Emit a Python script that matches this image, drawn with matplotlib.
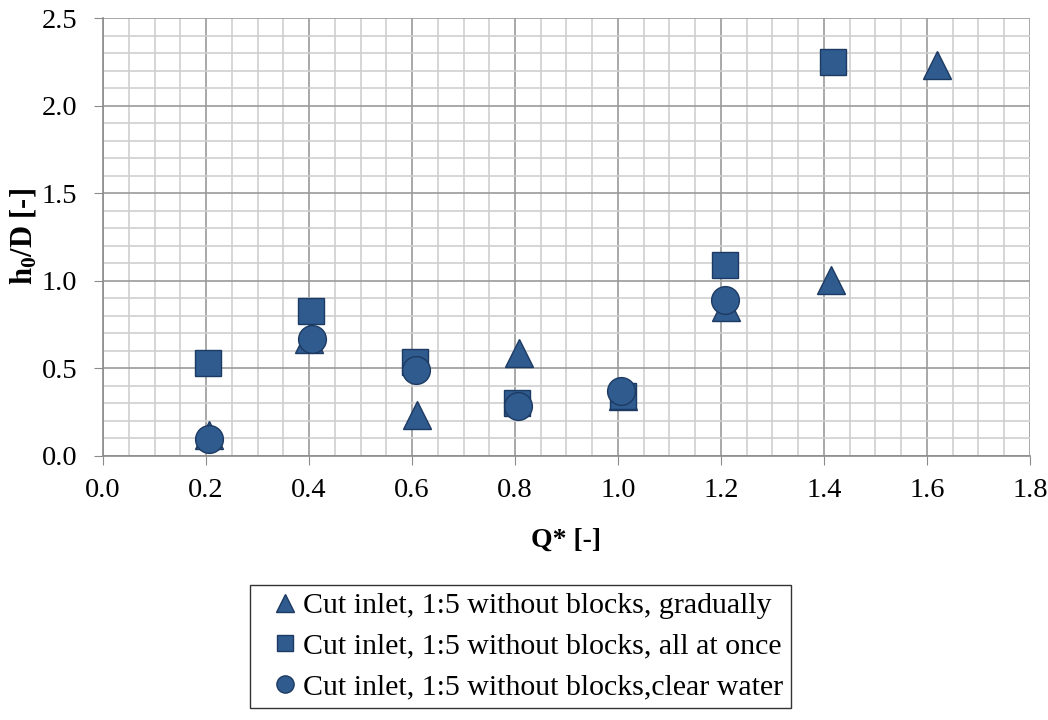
import matplotlib
matplotlib.use('Agg')
import matplotlib.pyplot as plt
from matplotlib.ticker import MultipleLocator

plt.rcParams['font.family'] = ['Liberation Serif', 'DejaVu Serif']
plt.rcParams['mathtext.fontset'] = 'custom'
plt.rcParams['mathtext.rm'] = 'Liberation Serif'
plt.rcParams['mathtext.bf'] = 'Liberation Serif:bold'

# gradually (triangles)
q_grad = [0.205, 0.40, 0.61, 0.807, 1.01, 1.21, 1.413, 1.62]
h_grad = [0.12, 0.67, 0.234, 0.59, 0.34, 0.85, 1.005, 2.23]

# all at once (squares)
q_once = [0.203, 0.403, 0.605, 0.803, 1.01, 1.207, 1.417]
h_once = [0.533, 0.83, 0.538, 0.30, 0.342, 1.09, 2.247]

# clear water (circles)
q_clear = [0.205, 0.405, 0.608, 0.805, 1.005, 1.207]
h_clear = [0.095, 0.668, 0.49, 0.287, 0.371, 0.89]

labels = ['Cut inlet, 1:5 without blocks, gradually',
          'Cut inlet, 1:5 without blocks, all at once',
          'Cut inlet, 1:5 without blocks,clear water']

face = '#2f5b8f'
edge = '#1d3a62'

fig = plt.figure(figsize=(10.48, 7.2), dpi=100)
ax = fig.add_axes([0.0983, 0.3667, 0.8845, 0.6083])

ax.plot(q_grad, h_grad, '^', ms=20, mfc=face, mec=edge, mew=1.0, label=labels[0], zorder=3)
ax.plot(q_once, h_once, 's', ms=19, mfc=face, mec=edge, mew=1.0, label=labels[1], zorder=4)
ax.plot(q_clear, h_clear, 'o', ms=20, mfc=face, mec=edge, mew=1.0, label=labels[2], zorder=5)

ax.set_xlim(0, 1.8)
ax.set_ylim(0, 2.5)
ax.xaxis.set_major_locator(MultipleLocator(0.2))
ax.xaxis.set_minor_locator(MultipleLocator(0.05))
ax.yaxis.set_major_locator(MultipleLocator(0.5))
ax.yaxis.set_minor_locator(MultipleLocator(0.1))
ax.xaxis.set_major_formatter(lambda v, p: '%.1f' % v)
ax.yaxis.set_major_formatter(lambda v, p: '%.1f' % v)

ax.grid(which='major', color='#9a9a9a', lw=1.2, zorder=0)
ax.grid(which='minor', color='#cfcfcf', lw=1.2, zorder=0)
ax.set_axisbelow(True)

for s in ['top', 'right']:
    ax.spines[s].set_visible(False)
for s in ['left', 'bottom']:
    ax.spines[s].set_color('#8c8c8c')
    ax.spines[s].set_linewidth(1.2)

ax.tick_params(which='major', direction='out', length=6.5, color='#8c8c8c', labelsize=20.5)
ax.tick_params(axis='x', which='major', pad=9)
ax.tick_params(axis='y', which='major', pad=12)
ax.tick_params(which='minor', length=0)

ax.set_xlabel('Q* [-]', fontsize=20, fontweight='bold', labelpad=18)
ax.set_ylabel(r'$\mathbf{h_0}$/D [-]', fontsize=22, fontweight='bold', labelpad=2)

leg = fig.legend(loc='upper left', bbox_to_anchor=(0.2385, 0.1875), fontsize=21.5,
                 frameon=True, fancybox=False, edgecolor='black', markerscale=0.62,
                 handlelength=1.87, handletextpad=-0.33, labelspacing=0.45,
                 borderpad=0.25, borderaxespad=0, numpoints=1)
leg.get_frame().set_linewidth(1.0)

fig.savefig('out.png', dpi=100)
